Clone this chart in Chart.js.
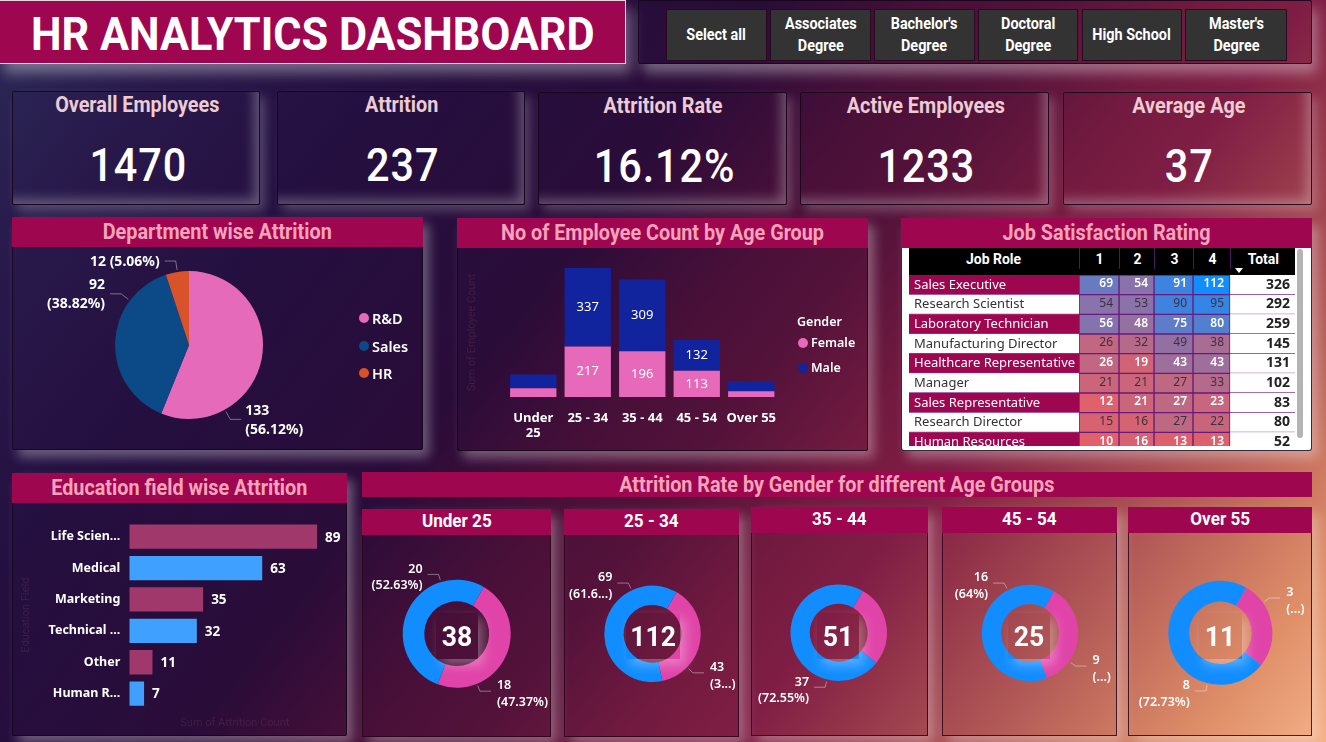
<!DOCTYPE html>
<html><head><meta charset="utf-8"><title>HR Analytics Dashboard</title>
<script src="https://cdn.jsdelivr.net/npm/chart.js@4"></script>
<style>
html,body{margin:0;padding:0;width:1326px;height:742px;overflow:hidden;}
body{position:relative;font-family:Roboto,sans-serif;background:linear-gradient(128deg,#2b2b58 0%,#28184a 12%,#240f3f 25%,#2a0c38 40%,#4a1038 50%,#52123a 55%,#721a3f 63%,#801e45 69%,#8f2f48 73%,#b55d58 83%,#df8f68 93%,#f4b088 100%);}
.a{position:absolute;box-sizing:border-box;}
.card{border:1px solid rgba(20,5,25,.85);border-radius:2px;box-shadow:6px 7px 12px rgba(255,255,255,.33);}
.kpi{box-shadow:5px 6px 11px rgba(255,255,255,.22),inset -9px -9px 12px -4px rgba(255,255,255,.28);}
.hdr{background:#9e0650;display:flex;align-items:center;justify-content:center;font-weight:700;color:#f6a3ba;white-space:nowrap;}
.din{display:inline-block;transform:scaleX(.9);white-space:nowrap;}
.c{display:flex;align-items:center;justify-content:center;text-align:center;white-space:nowrap;}
.btn{background:#333;border:1px solid #2a0a20;color:#fff;font-weight:700;font-size:16px;line-height:22px;}
.dot{border-radius:50%;}
canvas{position:absolute;display:block;}
</style></head><body>
<script>
// ---------- data ----------
const dashboardTitle = 'HR ANALYTICS DASHBOARD';
const slicerLabels = [['Select all'],['Associates','Degree'],["Bachelor's",'Degree'],['Doctoral','Degree'],['High School'],["Master's",'Degree']];
const kpiTitles = ['Overall Employees','Attrition','Attrition Rate','Active Employees','Average Age'];
const kpiValues = ['1470','237','16.12%','1233','37'];

const deptLabels = ['R&D','Sales','HR'];
const deptValues = [133,92,12];
const deptCallouts = [['133','(56.12%)'],['92','(38.82%)'],['12 (5.06%)']];

const ageGroups = ['Under 25','25 - 34','35 - 44','45 - 54','Over 55'];
const femaleCounts = [38,217,196,113,25];
const maleCounts = [59,337,309,132,44];

const eduFields = ['Life Scien...','Medical','Marketing','Technical ...','Other','Human R...'];
const eduAttrition = [89,63,35,32,11,7];

const jobRoles = ['Sales Executive','Research Scientist','Laboratory Technician','Manufacturing Director','Healthcare Representative','Manager','Sales Representative','Research Director','Human Resources'];
const ratingHeaders = ['1','2','3','4'];
const rating1 = [69,54,56,26,26,21,12,15,10];
const rating2 = [54,53,48,32,19,21,21,16,16];
const rating3 = [91,90,75,49,43,27,27,27,13];
const rating4 = [112,95,80,38,43,33,23,22,13];
const roleTotals = [326,292,259,145,131,102,83,80,52];

const donutTitles = ['Under 25','25 - 34','35 - 44','45 - 54','Over 55'];
const donutFemale = [18,43,14,9,3];
const donutMale = [20,69,37,16,8];
const donutTotals = [38,112,51,25,11];
const donutFemaleText = [['18','(47.37%)'],['43','(3...)'],null,['9','(...)'],['3','(...)']];
const donutMaleText = [['20','(52.63%)'],['69','(61.6...)'],['37','(72.55%)'],['16','(64%)'],['8','(72.73%)']];

// ---------- layout helpers ----------
function el(x,y,w,h,cls,html,style){
  const d=document.createElement('div');d.className='a '+(cls||'');
  d.style.cssText=`left:${x}px;top:${y}px;width:${w}px;height:${h}px;`+(style||'');
  if(html!==undefined)d.innerHTML=html;document.body.appendChild(d);return d;
}
function canvas(x,y,w,h,parent){
  const c=document.createElement('canvas');c.width=w;c.height=h;
  c.style.cssText=`left:${x}px;top:${y}px;width:${w}px;height:${h}px;`;
  (parent||document.body).appendChild(c);return c;
}
const din=t=>`<span class="din">${t}</span>`;
Chart.defaults.animation=false;Chart.defaults.responsive=false;
Chart.defaults.plugins.legend.display=false;Chart.defaults.plugins.tooltip.enabled=false;
Chart.defaults.font.family='Roboto, sans-serif';

// callout labels for pies and donuts: anchored on the arc via its own centre and radius
const callouts={id:'callouts',afterDatasetsDraw(chart,_,o){
  if(!o.texts)return;
  const arcs=chart.getDatasetMeta(0).data,ctx=chart.ctx;ctx.save();
  arcs.forEach((arc,i)=>{
    const t=o.texts[i];if(!t)return;
    const a=o.angles[i]*Math.PI/180,sx=Math.sin(a),sy=-Math.cos(a),r=arc.outerRadius,side=sx>=0?1:-1;
    const e=o.elbow||8;
    const x0=arc.x+(r+2)*sx,y0=arc.y+(r+2)*sy,x1=arc.x+(r+e)*sx,y1=arc.y+(r+e)*sy,x2=x1+side*11;
    ctx.strokeStyle=o.lineColor;ctx.lineWidth=1;ctx.beginPath();ctx.moveTo(x0,y0);ctx.lineTo(x1,y1);ctx.lineTo(x2,y1);ctx.stroke();
    ctx.fillStyle=o.color;ctx.font=o.font;ctx.textBaseline='middle';
    const lh=o.lineHeight;
    t.forEach((s,k)=>{
      const w=ctx.measureText(s).width;
      const tw=Math.max(...t.map(q=>ctx.measureText(q).width));
      const left=side>0?x2+o.gapR:x2-o.gapL-tw;
      ctx.textAlign='left';
      ctx.fillText(s,side>0?left:left+tw-w,y1+o.dy+(k-(t.length-1)/2)*lh);
    });
  });ctx.restore();
}};
Chart.register(callouts);

// ---------- header + slicer ----------
el(-1,0,627,64,'hdr',`<span class="din" style="transform:scaleX(.94)">${dashboardTitle}</span>`,'color:#fff;font-size:46px;border:1px solid #e8d8e0;padding-top:3px;box-shadow:5px 9px 13px rgba(255,255,255,.36);');
el(638,0,674,64,'card','', 'box-shadow:5px 9px 13px rgba(255,255,255,.36);');
[[666,101],[770,101],[874,101],[978,100],[1082,100],[1185,102]].forEach((b,i)=>{
  el(b[0],9,b[1],52,'c btn',din(slicerLabels[i].join('<br>')));
});

// ---------- KPI ----------
[[12,91,248,114],[277,91,248,114],[538,92,249,113],[800,92,249,113],[1063,92,249,113]].forEach((b,i)=>{
  el(b[0],b[1],b[2],b[3],'card kpi');
  el(b[0]+1,b[1],b[2],26,'c',din(kpiTitles[i]),'color:#eccbd3;font-weight:700;font-size:22px;');
  el(b[0]+2,b[1]+50,b[2],48,'c',din(kpiValues[i]),'color:#fff;font-weight:500;font-size:46px;letter-spacing:1px;');
});

// ---------- cards ----------
function panel(x,y,w,h,title,hh,fs){
  el(x,y,w,h,'card');
  el(x,y,w,hh,'hdr',din(title),`font-size:${fs||22}px;padding-bottom:1px;`);
}
panel(12,217,411,233,'Department wise Attrition',30);
panel(457,218,411,233,'No of Employee Count by Age Group',30);
panel(12,473,335,263,'Education field wise Attrition',30);

// ---------- department pie ----------
new Chart(canvas(12,248,411,202),{type:'pie',
  data:{labels:deptLabels,datasets:[{data:deptValues,backgroundColor:['#e66aba','#0b4a86','#d9532a'],borderWidth:0}]},
  options:{layout:{padding:{top:23,bottom:31,left:103,right:160}},
    plugins:{callouts:{texts:deptCallouts,angles:[151,307,351],elbow:11,gapL:5,gapR:4,dy:1,font:'700 14px "Noto Sans"',color:'#fff',lineColor:'rgba(255,255,255,.4)',lineHeight:19}}}});
const deptColors=['#e66aba','#0b4a86','#d9532a'];
deptLabels.forEach((t,i)=>{
  const y=318+i*27.5;
  el(359,y-5,10,10,'dot','','background:'+deptColors[i]);
  el(372,y-11,50,22,'',t,'font:600 14.5px/22px "Noto Sans";color:#fff;');
});

// ---------- age stacked bars ----------
const stackedValues={id:'stackedValues',afterDatasetsDraw(chart){
  const ctx=chart.ctx;ctx.save();ctx.fillStyle='#fff';ctx.font='13px "Noto Sans"';ctx.textAlign='center';ctx.textBaseline='middle';
  chart.data.datasets.forEach((ds,d)=>chart.getDatasetMeta(d).data.forEach((b,i)=>{
    if(ds.data[i]>=100)ctx.fillText(ds.data[i],b.x,(b.y+b.base)/2);
  }));ctx.restore();
}};
new Chart(canvas(457,248,411,203),{type:'bar',plugins:[stackedValues],
  data:{labels:ageGroups,datasets:[
    {label:'Female',data:femaleCounts,backgroundColor:'#e66ab9'},
    {label:'Male',data:maleCounts,backgroundColor:'#12239e'}]},
  options:{layout:{padding:{top:20,left:9,right:89.5,bottom:0}},
    datasets:{bar:{categoryPercentage:1,barPercentage:.85,borderWidth:0}},
    scales:{
      x:{stacked:true,grid:{display:false},border:{display:false},
        ticks:{color:'#fff',maxRotation:0,autoSkip:false,padding:5,font:{size:13,weight:'700',family:'"Noto Sans"'},
          callback(v){const s=this.getLabelForValue(v);return s==='Under 25'?['Under','25']:s;}},
        afterFit(s){s.height=54;}},
      y:{stacked:true,min:0,max:554,grid:{display:false},border:{display:false},ticks:{display:false},
        title:{display:true,text:'Sum of Employee Count',color:'rgba(105,60,90,.35)',font:{size:11},padding:0},
        afterFit(s){s.width=40;}}
    }}});
el(797,311,60,22,'','Gender','font:600 12.5px/22px "Noto Sans";color:#fff;');
['Female','Male'].forEach((t,i)=>{
  const y=342.5+i*25;
  el(798,y-5,10,10,'dot','','background:'+(i?'#12239e':'#e66ab9'));
  el(811,y-11,60,22,'',t,'font:600 12.5px/22px "Noto Sans";color:#fff;');
});

// ---------- job satisfaction table ----------
el(901,218,411,233,'card','','background:#fff;border-radius:3px;');
el(901,218,411,30,'hdr',din('Job Satisfaction Rating'),'font-size:22px;padding-bottom:2px;');
const colWidths=[170,40,35,39,37,65];
const tableLeft=909;
let edges=[0];colWidths.forEach(w=>edges.push(edges[edges.length-1]+w));
el(tableLeft,248,edges[6],27,'','', 'background:#000;');
['Job Role',...ratingHeaders,'Total'].forEach((t,i)=>{
  el(tableLeft+edges[i],248,colWidths[i],21,'c',din(t),'color:#fff;font-weight:700;font-size:15.5px;'+(i>0?'border-left:1px solid #4a1a5a;':''));
});
el(1235,268,0,0,'','','border-left:4.5px solid transparent;border-right:4.5px solid transparent;border-top:5px solid #fff;');
el(1297,249,6,189,'','','background:#b4b4b4;border-radius:3px;');
const wrap=el(tableLeft,275,edges[6],171,'','','overflow:hidden;');
const ratings=[rating1,rating2,rating3,rating4];
const lo=[226,96,105],hi=[17,141,255];
const heat=v=>{const t=Math.min(1,Math.max(0,(v-10)/102));return `rgb(${lo.map((c,i)=>Math.round(c+(hi[i]-c)*t)).join(',')})`;};
const span=j=>jobRoles.map(()=>[edges[j],edges[j+1]]);
const tableText={id:'tableText',afterDatasetsDraw(chart){
  const ctx=chart.ctx;ctx.save();ctx.textBaseline='middle';
  jobRoles.forEach((role,i)=>{
    const dark=i%2===0;
    const rb=chart.getDatasetMeta(0).data[i];
    ctx.textAlign='left';ctx.fillStyle=dark?'#fff':'#333';ctx.font='13px "Noto Sans"';
    ctx.fillText(role,rb.base+5,rb.y);
    ratings.forEach((vals,j)=>{
      const b=chart.getDatasetMeta(j+1).data[i];
      ctx.textAlign='right';ctx.fillStyle=dark?'#fff':'#3d3040';ctx.font=(dark?'600 ':'')+'12px "Noto Sans"';
      ctx.fillText(vals[i],b.x-6,b.y-1);
    });
    const t=chart.getDatasetMeta(5).data[i];
    ctx.textAlign='right';ctx.fillStyle='#222';ctx.font='700 14px "Noto Sans"';
    ctx.fillText(roleTotals[i],t.x-5,t.y);
  });ctx.restore();
}};
const roleBg=jobRoles.map((_,i)=>i%2===0?'#9e0650':'#ffffff');
new Chart(canvas(0,0,edges[6],177,wrap),{type:'bar',plugins:[tableText],
  data:{labels:jobRoles,datasets:[
    {data:span(0),backgroundColor:roleBg,borderWidth:{bottom:1},borderColor:'#8a3a9a'},
    ...ratings.map((vals,j)=>({data:span(j+1),backgroundColor:vals.map(heat),borderWidth:1,borderColor:'#6a1a7a'})),
    {data:span(5),backgroundColor:'#fff',borderWidth:{bottom:1},borderColor:'#8a3a9a'}
  ]},
  options:{indexAxis:'y',layout:{padding:0},
    datasets:{bar:{categoryPercentage:1,barPercentage:1,borderSkipped:false}},
    scales:{x:{type:'linear',min:0,max:edges[6],display:false,stacked:false},
            y:{display:false,stacked:true}}}});

// ---------- education bars ----------
const endValues={id:'endValues',afterDatasetsDraw(chart){
  const ctx=chart.ctx;ctx.save();ctx.fillStyle='#fff';ctx.font='700 13.5px "Noto Sans"';ctx.textAlign='left';ctx.textBaseline='middle';
  chart.getDatasetMeta(0).data.forEach((b,i)=>ctx.fillText(chart.data.datasets[0].data[i],b.x+8,b.y+1));ctx.restore();
}};
new Chart(canvas(12,503,335,233),{type:'bar',plugins:[endValues],
  data:{labels:eduFields,datasets:[{data:eduAttrition,backgroundColor:eduFields.map((_,i)=>i%2?'#40a0ff':'#a0386c')}]},
  options:{indexAxis:'y',layout:{padding:{top:18,right:6.7,left:8,bottom:0}},
    datasets:{bar:{categoryPercentage:1,barPercentage:.775,borderWidth:0}},
    scales:{
      x:{min:0,max:100,grid:{display:false},border:{display:false},ticks:{display:false},
        title:{display:true,text:'Sum of Attrition Count',color:'rgba(105,60,90,.35)',font:{size:11},padding:{top:0,bottom:6}},
        afterFit(s){s.height=26.7;}},
      y:{grid:{display:false},border:{display:false},
        ticks:{color:'#fff',autoSkip:false,padding:1,font:{size:12.5,weight:'700',family:'"Noto Sans"'}},
        title:{display:true,text:'Education Field',color:'rgba(105,60,90,.35)',font:{size:11},padding:0},
        afterFit(s){s.width=109.3;}}
    }}});

// ---------- donuts ----------
el(362,472,950,25,'hdr',din('Attrition Rate by Gender for different Age Groups'),'font-size:22px;');
const donutBoxes=[[362,509,189,228,456.7,633.7,54],[564,509,175,228,652.5,633.8,48.2],[751,507,177,229,838.7,632.7,48.2],[942,507,175,229,1030,633,48.2],[1128,507,184,229,1220.3,632.8,52]];
const donutAngles=[[158,343],[134,334.5],[90,194],[126,332.6],[54.6,194]];
const holeBoxes=[[436,42],[626,54],[817,42],[1008,42],[1199,43]];
donutBoxes.forEach((b,i)=>{
  const [x,y,w,h,cx,cy,r]=b;
  el(x,y,w,h,'card','', 'border-color:rgba(40,5,25,.85);border-radius:0;');
  el(x,y,w,26,'hdr',din(donutTitles[i]),'color:#fff;font-size:19px;padding-bottom:3px;');
  const top=y+26,ch=h-26;
  new Chart(canvas(x,top,w,ch),{type:'doughnut',
    data:{labels:['Female','Male'],datasets:[{data:[donutFemale[i],donutMale[i]],backgroundColor:['#e044a8','#118dff'],borderWidth:0}]},
    options:{rotation:30,cutout:'60%',
      layout:{padding:{top:cy-r-top,bottom:top+ch-cy-r,left:cx-r-x,right:x+w-cx-r}},
      plugins:{callouts:{texts:[donutFemaleText[i],donutMaleText[i]],angles:donutAngles[i],gapL:5,gapR:6,dy:3,font:'600 12.5px "Noto Sans"',color:'#fff',lineColor:'rgba(255,255,255,.4)',lineHeight:16.5}}}});
  el(holeBoxes[i][0],613,holeBoxes[i][1],46,'c',`<span class="din" style="transform:scaleX(.95)">${donutTotals[i]}</span>`,'color:#fff;font-weight:700;font-size:28px;box-shadow:5px 6px 11px rgba(255,255,255,.32);');
});
</script>
</body></html>
